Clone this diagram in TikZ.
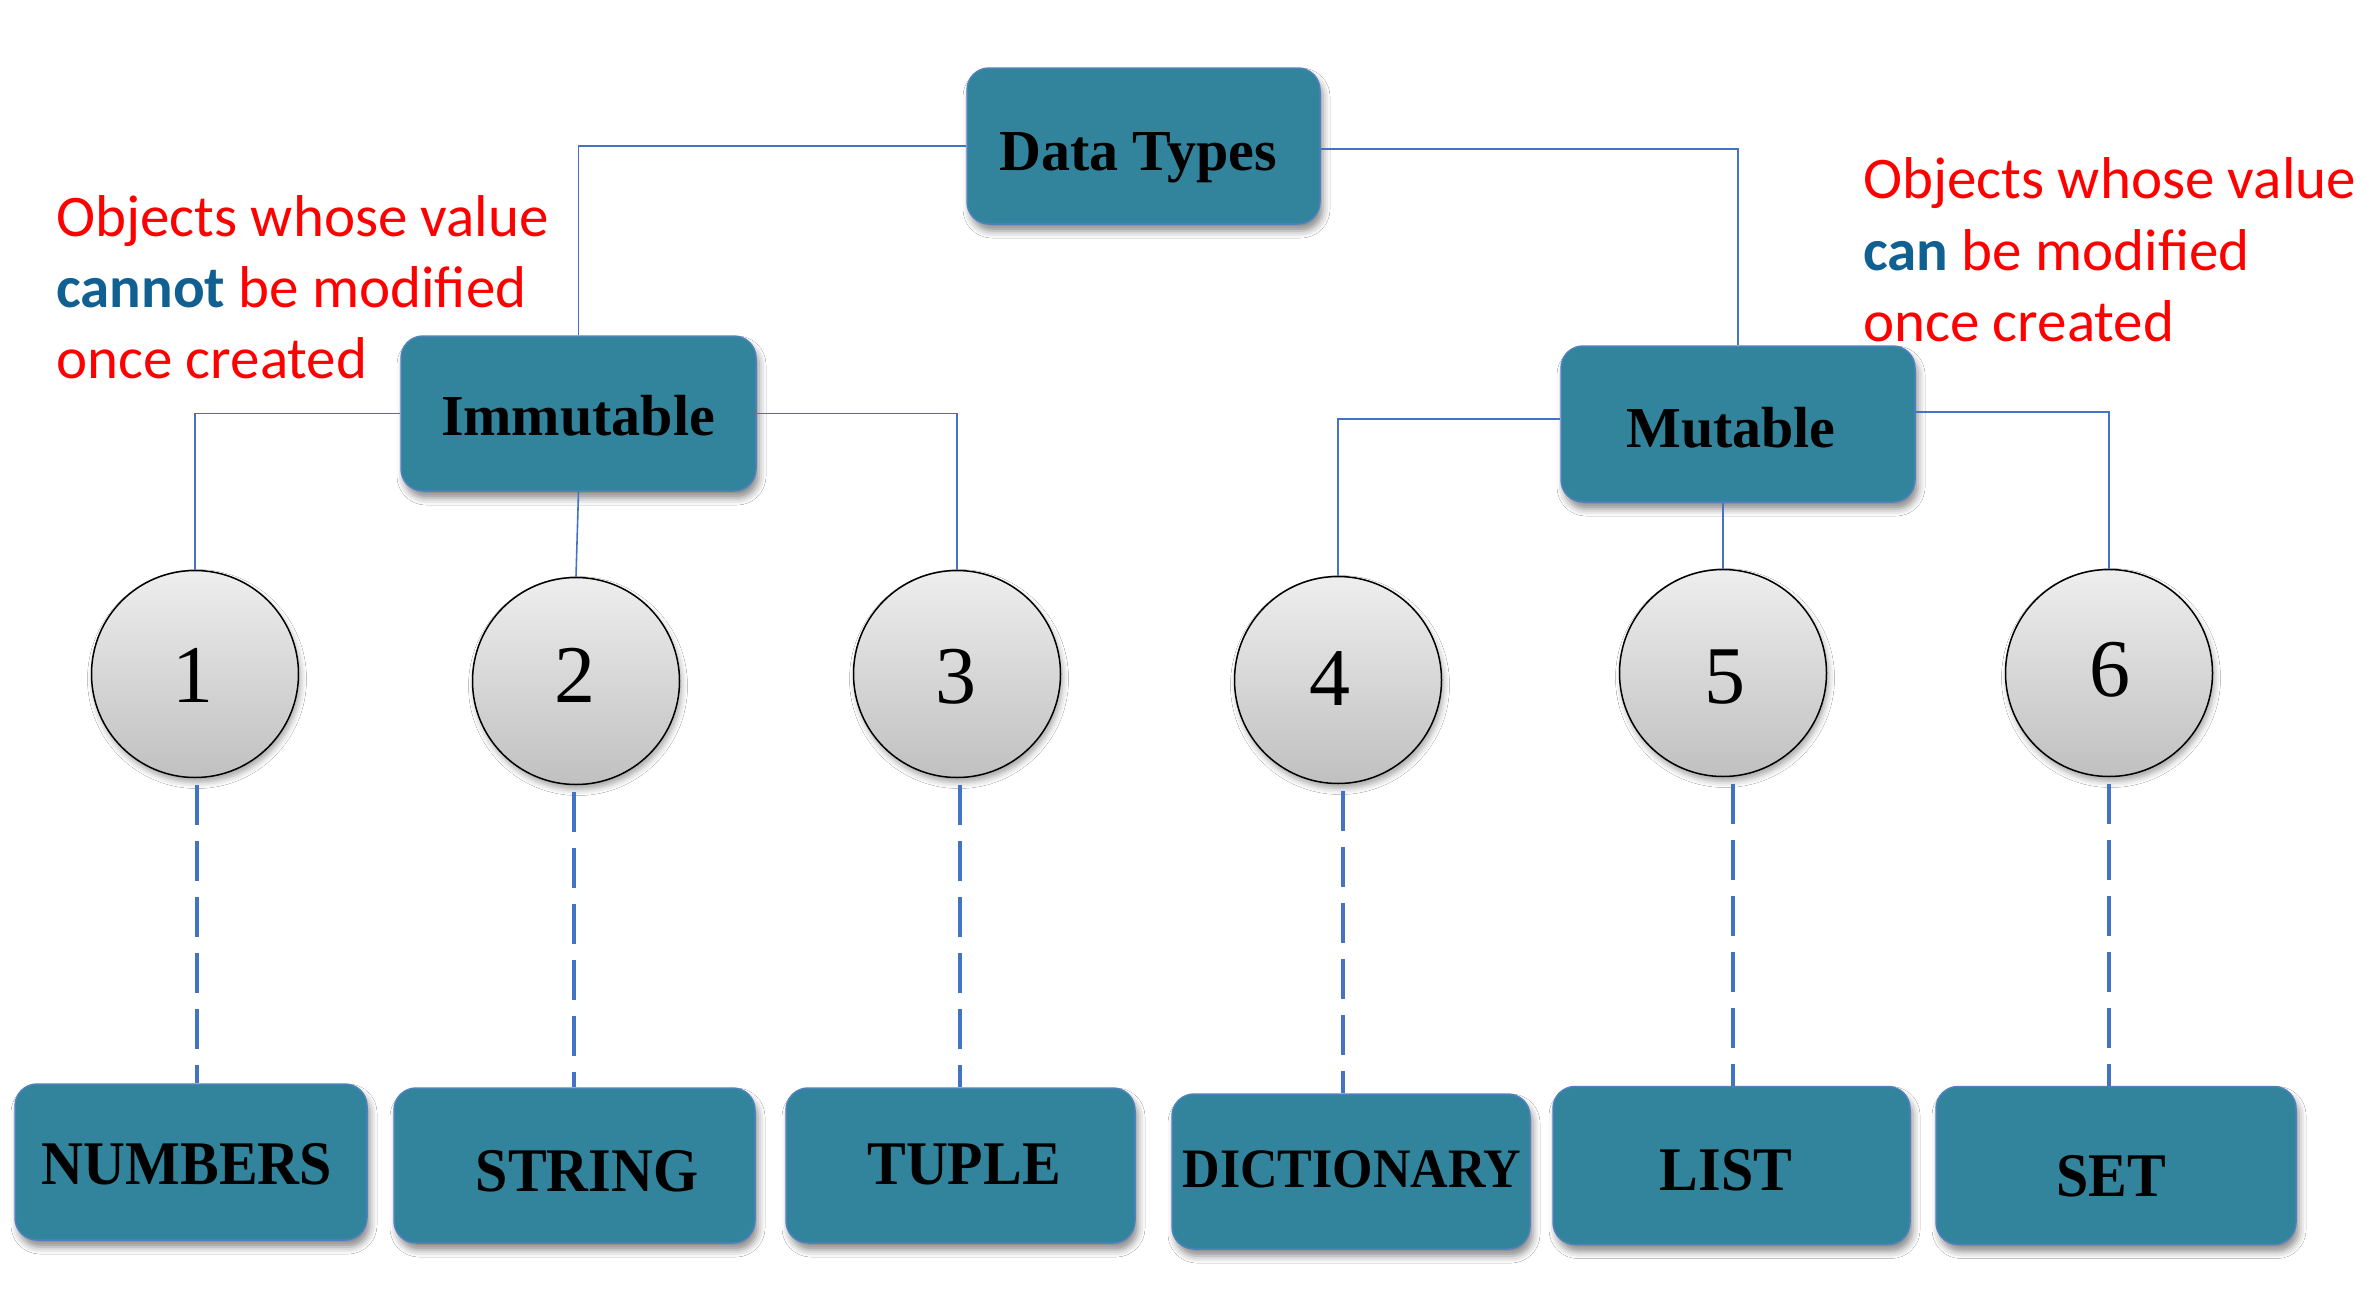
\documentclass[tikz,border=0pt]{standalone}
\usepackage{fontspec}
\usepackage{graphicx}
\setmainfont{Liberation Serif}
\newfontfamily\calib{Carlito}
\usetikzlibrary{shadows,shadows.blur,calc}
\definecolor{boxteal}{RGB}{49,132,155}
\definecolor{boxedge}{RGB}{79,129,189}
\definecolor{connblue}{RGB}{68,114,196}
\definecolor{noteblue}{RGB}{16,96,146}
\definecolor{notered}{RGB}{255,0,0}
\definecolor{circtop}{RGB}{238,238,238}
\definecolor{circbot}{RGB}{192,192,192}
\newcommand{\tall}[1]{\scalebox{1}[1.07]{#1}}
\begin{document}
\begin{tikzpicture}[x=1pt,y=-1pt,
  tbox/.style={draw=boxedge, line width=1.5pt, fill=boxteal, rounded corners=22pt,
    inner sep=0pt, blur shadow={shadow xshift=3pt, shadow yshift=-7pt, shadow blur radius=7pt, shadow opacity=45}},
  tlabel/.style={inner sep=0pt, anchor=base, font=\bfseries\fontsize{58}{60}\selectfont},
  numc/.style={circle, draw=black, line width=1.5pt, top color=circtop, bottom color=circbot,
    minimum size=207pt, inner sep=0pt,
    blur shadow={shadow xshift=2pt, shadow yshift=-5pt, shadow blur radius=6pt, shadow opacity=35}},
  digit/.style={inner sep=0pt, anchor=base, font=\fontsize{82}{82}\selectfont},
  conn/.style={draw=connblue, line width=1.6pt},
  dashconn/.style={draw=connblue, line width=3.5pt, dash pattern=on 40pt off 16pt, shorten <=7pt},
  note/.style={inner sep=0pt, anchor=base west, text=notered, font=\calib\fontsize{59}{60}\selectfont}
]
\fill[white] (0,0) rectangle (2372,1288);
\useasboundingbox (0,0) rectangle (2372,1288);

% top level boxes
\node[tbox, minimum width=353pt, minimum height=156pt] (dt) at (1143.5,146) {};
\node[tlabel] (dtl) at (1138,170) {Data Types};
\node[tbox, minimum width=355pt, minimum height=155pt] (imm) at (578.5,413.5) {};
\node[tlabel] (imml) at (578,435) {Immutable};
\node[tbox, minimum width=354pt, minimum height=156pt] (mut) at (1738,424) {};
\node[tlabel] (mutl) at (1731,447) {Mutable};

% circles
\node[numc] (c1) at (195,674) {};
\node[numc] (c2) at (576,681) {};
\node[numc] (c3) at (957,674) {};
\node[numc] (c4) at (1338,680) {};
\node[numc] (c5) at (1723,673) {};
\node[numc] (c6) at (2109,673) {};
\node[digit] (d1) at (193,702) {1};
\node[digit] (d2) at (575,702) {2};
\node[digit] (d3) at (956,703) {3};
\node[digit] (d4) at (1330,705) {4};
\node[digit] (d5) at (1725,703) {5};
\node[digit] (d6) at (2110,696) {6};

% bottom boxes
\node[tbox, minimum width=352pt, minimum height=156pt] (numbers) at (191,1162) {};
\node[tbox, minimum width=361pt, minimum height=155pt] (string) at (574.5,1165.5) {};
\node[tbox, minimum width=349pt, minimum height=155pt] (tuple) at (960.5,1165.5) {};
\node[tbox, minimum width=358pt, minimum height=155pt] (dict) at (1351,1171.5) {};
\node[tbox, minimum width=357pt, minimum height=158pt] (list) at (1731.5,1165.5) {};
\node[tbox, minimum width=360pt, minimum height=158pt] (set) at (2116,1165.5) {};
\node[tlabel] (numbersl) at (187,1184) {\tall{NUMBERS}};
\node[tlabel] (stringl) at (587,1191) {\tall{STRING}};
\node[tlabel] (tuplel) at (964,1184) {\tall{TUPLE}};
\node[tlabel, font=\bfseries\fontsize{52}{56}\selectfont] (dictl) at (1352,1187) {\tall{DICTIONARY}};
\node[tlabel] (listl) at (1726,1190) {\tall{LIST}};
\node[tlabel] (setl) at (2111,1196) {\tall{SET}};

% connectors
\draw[conn] (dt.west) -| (imm.north);
\draw[conn] ([yshift=-3pt]dt.east) -| (mut.north);
\draw[conn] (imm.west) -| (c1.north);
\draw[conn] (imm.east) -| (c3.north);
\draw[conn] (imm.south) -- (c2.north);
\draw[conn] ([yshift=5pt]mut.west) -| (c4.north);
\draw[conn] ([yshift=12pt]mut.east) -| (c6.north);
\draw[conn] (c5.north |- mut.south) -- (c5.north);

% dashed connectors
\draw[dashconn] ([xshift=2pt]c1.south) -- ([xshift=2pt]c1.south |- numbers.north);
\draw[dashconn] ([xshift=-2pt]c2.south) -- ([xshift=-2pt]c2.south |- string.north);
\draw[dashconn] ([xshift=3pt]c3.south) -- ([xshift=3pt]c3.south |- tuple.north);
\draw[dashconn] ([xshift=5pt]c4.south) -- ([xshift=5pt]c4.south |- dict.north);
\draw[dashconn] ([xshift=10pt]c5.south) -- ([xshift=10pt]c5.south |- list.north);
\draw[dashconn] (c6.south) -- (c6.south |- set.north);

% notes
\node[note] (ln1) at (56,236) {Objects whose value};
\node[note] (ln2) at (56,307) {{\bfseries\color{noteblue}cannot} be modified};
\node[note] (ln3) at (56,378) {once created};
\node[note] (rn1) at (1863,198) {Objects whose value};
\node[note] (rn2) at (1863,270) {{\bfseries\color{noteblue}can} be modified};
\node[note] (rn3) at (1863,341) {once created};
\end{tikzpicture}
\end{document}
